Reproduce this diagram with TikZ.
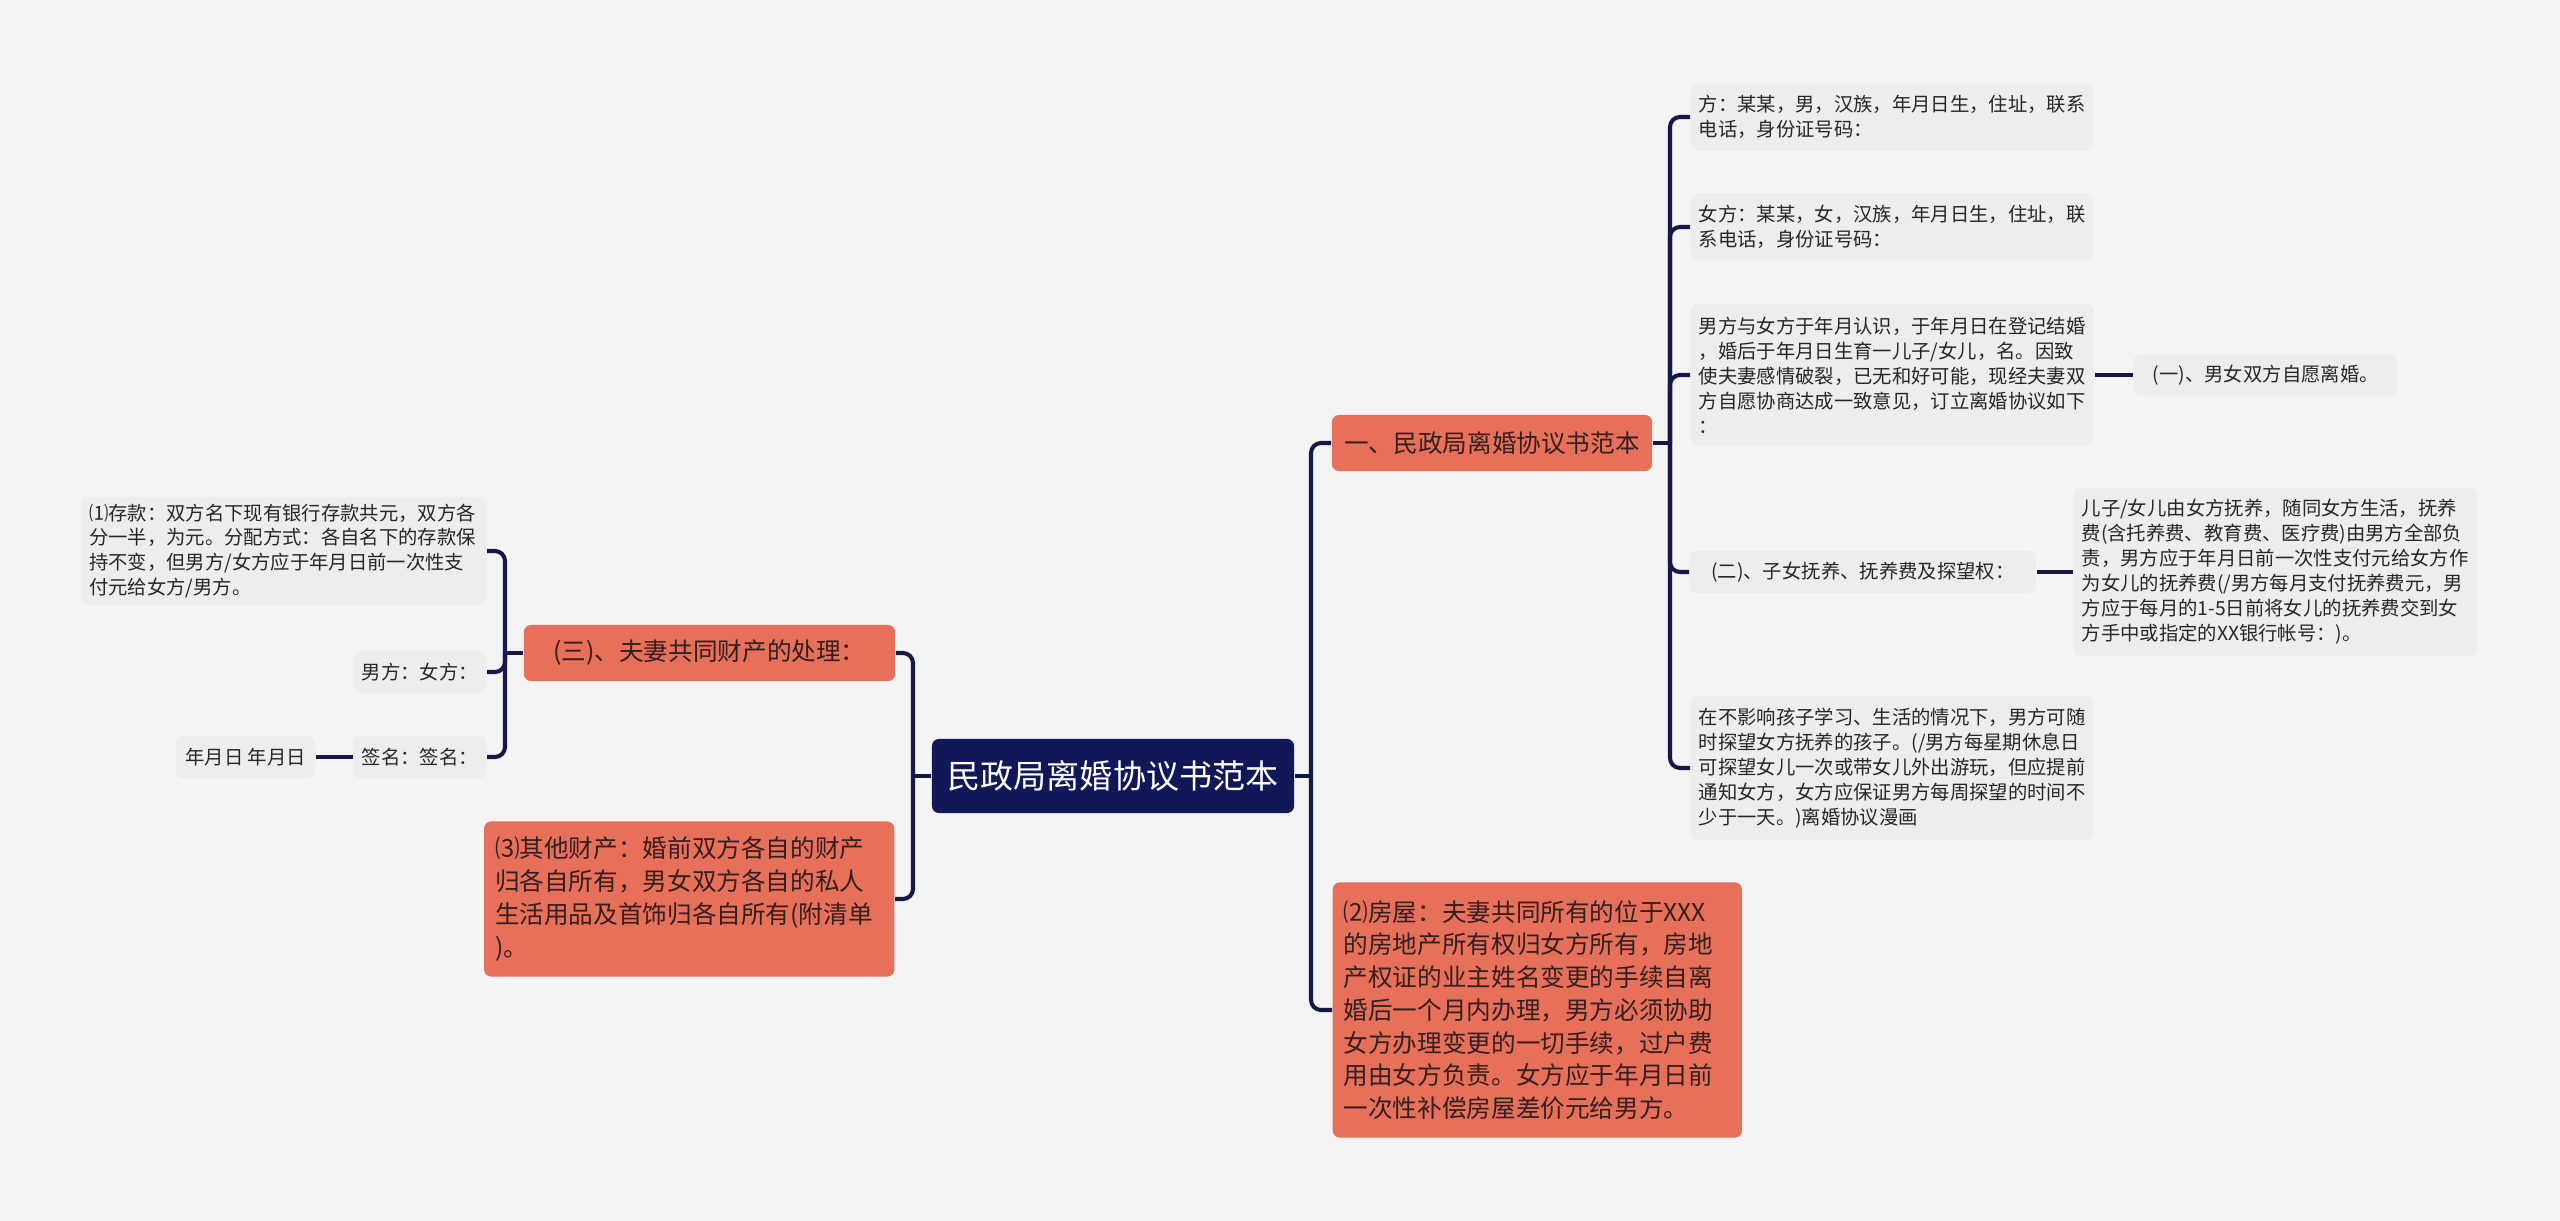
\documentclass[tikz,border=0pt]{standalone}
\usepackage{fontspec}
\setmainfont{Noto Sans CJK SC}
\usepackage{xcolor}
\usepackage{tikz}

\definecolor{bgc}{RGB}{244,244,244}
\definecolor{navy}{RGB}{17,24,88}
\definecolor{linec}{RGB}{20,24,70}
\definecolor{coral}{RGB}{231,112,91}
\definecolor{coraltext}{RGB}{52,30,30}
\definecolor{leafc}{RGB}{237,237,237}
\definecolor{leaftext}{RGB}{38,38,38}

\tikzset{
  link/.style={draw=linec, line width=1.15pt, rounded corners=0.1cm},
  rootbox/.style={fill=navy, text=white, rounded corners=0.07cm, inner sep=0pt,
    font=\fontsize{9.4pt}{11pt}\selectfont},
  mainbox/.style={fill=coral, text=coraltext, rounded corners=0.07cm, inner sep=0pt,
    font=\fontsize{7pt}{9.3pt}\selectfont},
  notebox/.style={fill=coral, text=coraltext, rounded corners=0.07cm, align=left,
    inner xsep=0.11cm, inner ysep=0pt, font=\fontsize{7pt}{9.3pt}\selectfont},
  leaf/.style={fill=leafc, text=leaftext, rounded corners=0.07cm, align=left,
    inner xsep=0.08cm, inner ysep=0pt, font=\fontsize{5.5pt}{7.1pt}\selectfont},
}

\begin{document}
\begin{tikzpicture}[x=0.01cm, y=-0.01cm]
    \fill[bgc] (0,0) rectangle (2560,1221);
    \useasboundingbox (0,0) rectangle (2560,1221);

    % centre
    \node[rootbox, minimum width=3.62cm, minimum height=0.74cm] (root) at (1113,776) {民政局离婚协议书范本};

    % right side
    \node[mainbox, minimum width=3.2cm, minimum height=0.56cm] (agree) at (1492,443) {一、民政局离婚协议书范本};
    \node[notebox, text width=3.87cm, minimum height=2.55cm, anchor=west] (house) at (1332,1010)
        {⑵房屋：夫妻共同所有的位于XXX\\的房地产所有权归女方所有，房地\\产权证的业主姓名变更的手续自离\\婚后一个月内办理，男方必须协助\\女方办理变更的一切手续，过户费\\用由女方负责。女方应于年月日前\\一次性补偿房屋差价元给男方。};

    \node[leaf, text width=3.87cm, minimum height=0.67cm, anchor=west] (man) at (1690,117)
        {方：某某，男，汉族，年月日生，住址，联系\\电话，身份证号码：};
    \node[leaf, text width=3.87cm, minimum height=0.67cm, anchor=west] (woman) at (1690,227)
        {女方：某某，女，汉族，年月日生，住址，联\\系电话，身份证号码：};
    \node[leaf, text width=3.87cm, minimum height=1.42cm, anchor=west] (story) at (1690,375)
        {男方与女方于年月认识，于年月日在登记结婚\\，婚后于年月日生育一儿子/女儿，名。因致\\使夫妻感情破裂，已无和好可能，现经夫妻双\\方自愿协商达成一致意见，订立离婚协议如下\\：};
    \node[leaf, minimum width=2.64cm, minimum height=0.41cm, inner xsep=0pt, anchor=west] (willing) at (2133,375)
        {(一)、男女双方自愿离婚。};
    \node[leaf, minimum width=3.46cm, minimum height=0.42cm, inner xsep=0pt, anchor=west] (child) at (1689,572)
        {(二)、子女抚养、抚养费及探望权：};
    \node[leaf, text width=3.88cm, minimum height=1.67cm, anchor=west] (support) at (2073,572)
        {儿子/女儿由女方抚养，随同女方生活，抚养\\费(含托养费、教育费、医疗费)由男方全部负\\责，男方应于年月日前一次性支付元给女方作\\为女儿的抚养费(/男方每月支付抚养费元，男\\方应于每月的1-5日前将女儿的抚养费交到女\\方手中或指定的XX银行帐号：)。};
    \node[leaf, text width=3.87cm, minimum height=1.43cm, anchor=west] (visit) at (1690,768)
        {在不影响孩子学习、生活的情况下，男方可随\\时探望女方抚养的孩子。(/男方每星期休息日\\可探望女儿一次或带女儿外出游玩，但应提前\\通知女方，女方应保证男方每周探望的时间不\\少于一天。)离婚协议漫画};

    % left side
    \node[mainbox, minimum width=3.71cm, minimum height=0.56cm] (property) at (709.5,653) {(三)、夫妻共同财产的处理：};
    \node[notebox, text width=3.88cm, minimum height=1.55cm, anchor=east] (other) at (895,899)
        {⑶其他财产：婚前双方各自的财产\\归各自所有，男女双方各自的私人\\生活用品及首饰归各自所有(附清单\\)。};

    \node[leaf, text width=3.89cm, minimum height=1.08cm, anchor=east] (deposit) at (487,551)
        {⑴存款：双方名下现有银行存款共元，双方各\\分一半，为元。分配方式：各自名下的存款保\\持不变，但男方/女方应于年月日前一次性支\\付元给女方/男方。};
    \node[leaf, minimum width=1.33cm, minimum height=0.43cm, inner xsep=0pt, anchor=east] (parties) at (487,672) {男方：女方：};
    \node[leaf, minimum width=1.33cm, minimum height=0.42cm, inner xsep=0pt, anchor=east] (sign) at (487,757) {签名：签名：};
    \node[leaf, minimum width=1.39cm, minimum height=0.42cm, inner xsep=0pt, anchor=east] (date) at (316,757) {年月日 年月日};

    % connectors
    \draw[link] (root.east) -- (1311,776) coordinate (rbus);
    \draw[link] (rbus) |- (agree.west);
    \draw[link] (rbus) |- (house.west);

    \draw[link] (agree.east) -- (1670,443) coordinate (abus);
    \foreach \leaf in {man, woman, story, child, visit}
        \draw[link] (abus) |- (\leaf.west);
    \draw[link] (story.east) -- (willing.west);
    \draw[link] (child.east) -- (support.west);

    \draw[link] (root.west) -- (913,776) coordinate (lbus);
    \draw[link] (lbus) |- (property.east);
    \draw[link] (lbus) |- (other.east);

    \draw[link] (property.west) -- (505,653) coordinate (pbus);
    \foreach \leaf in {deposit, parties, sign}
        \draw[link] (pbus) |- (\leaf.east);
    \draw[link] (sign.west) -- (date.east);
\end{tikzpicture}
\end{document}
